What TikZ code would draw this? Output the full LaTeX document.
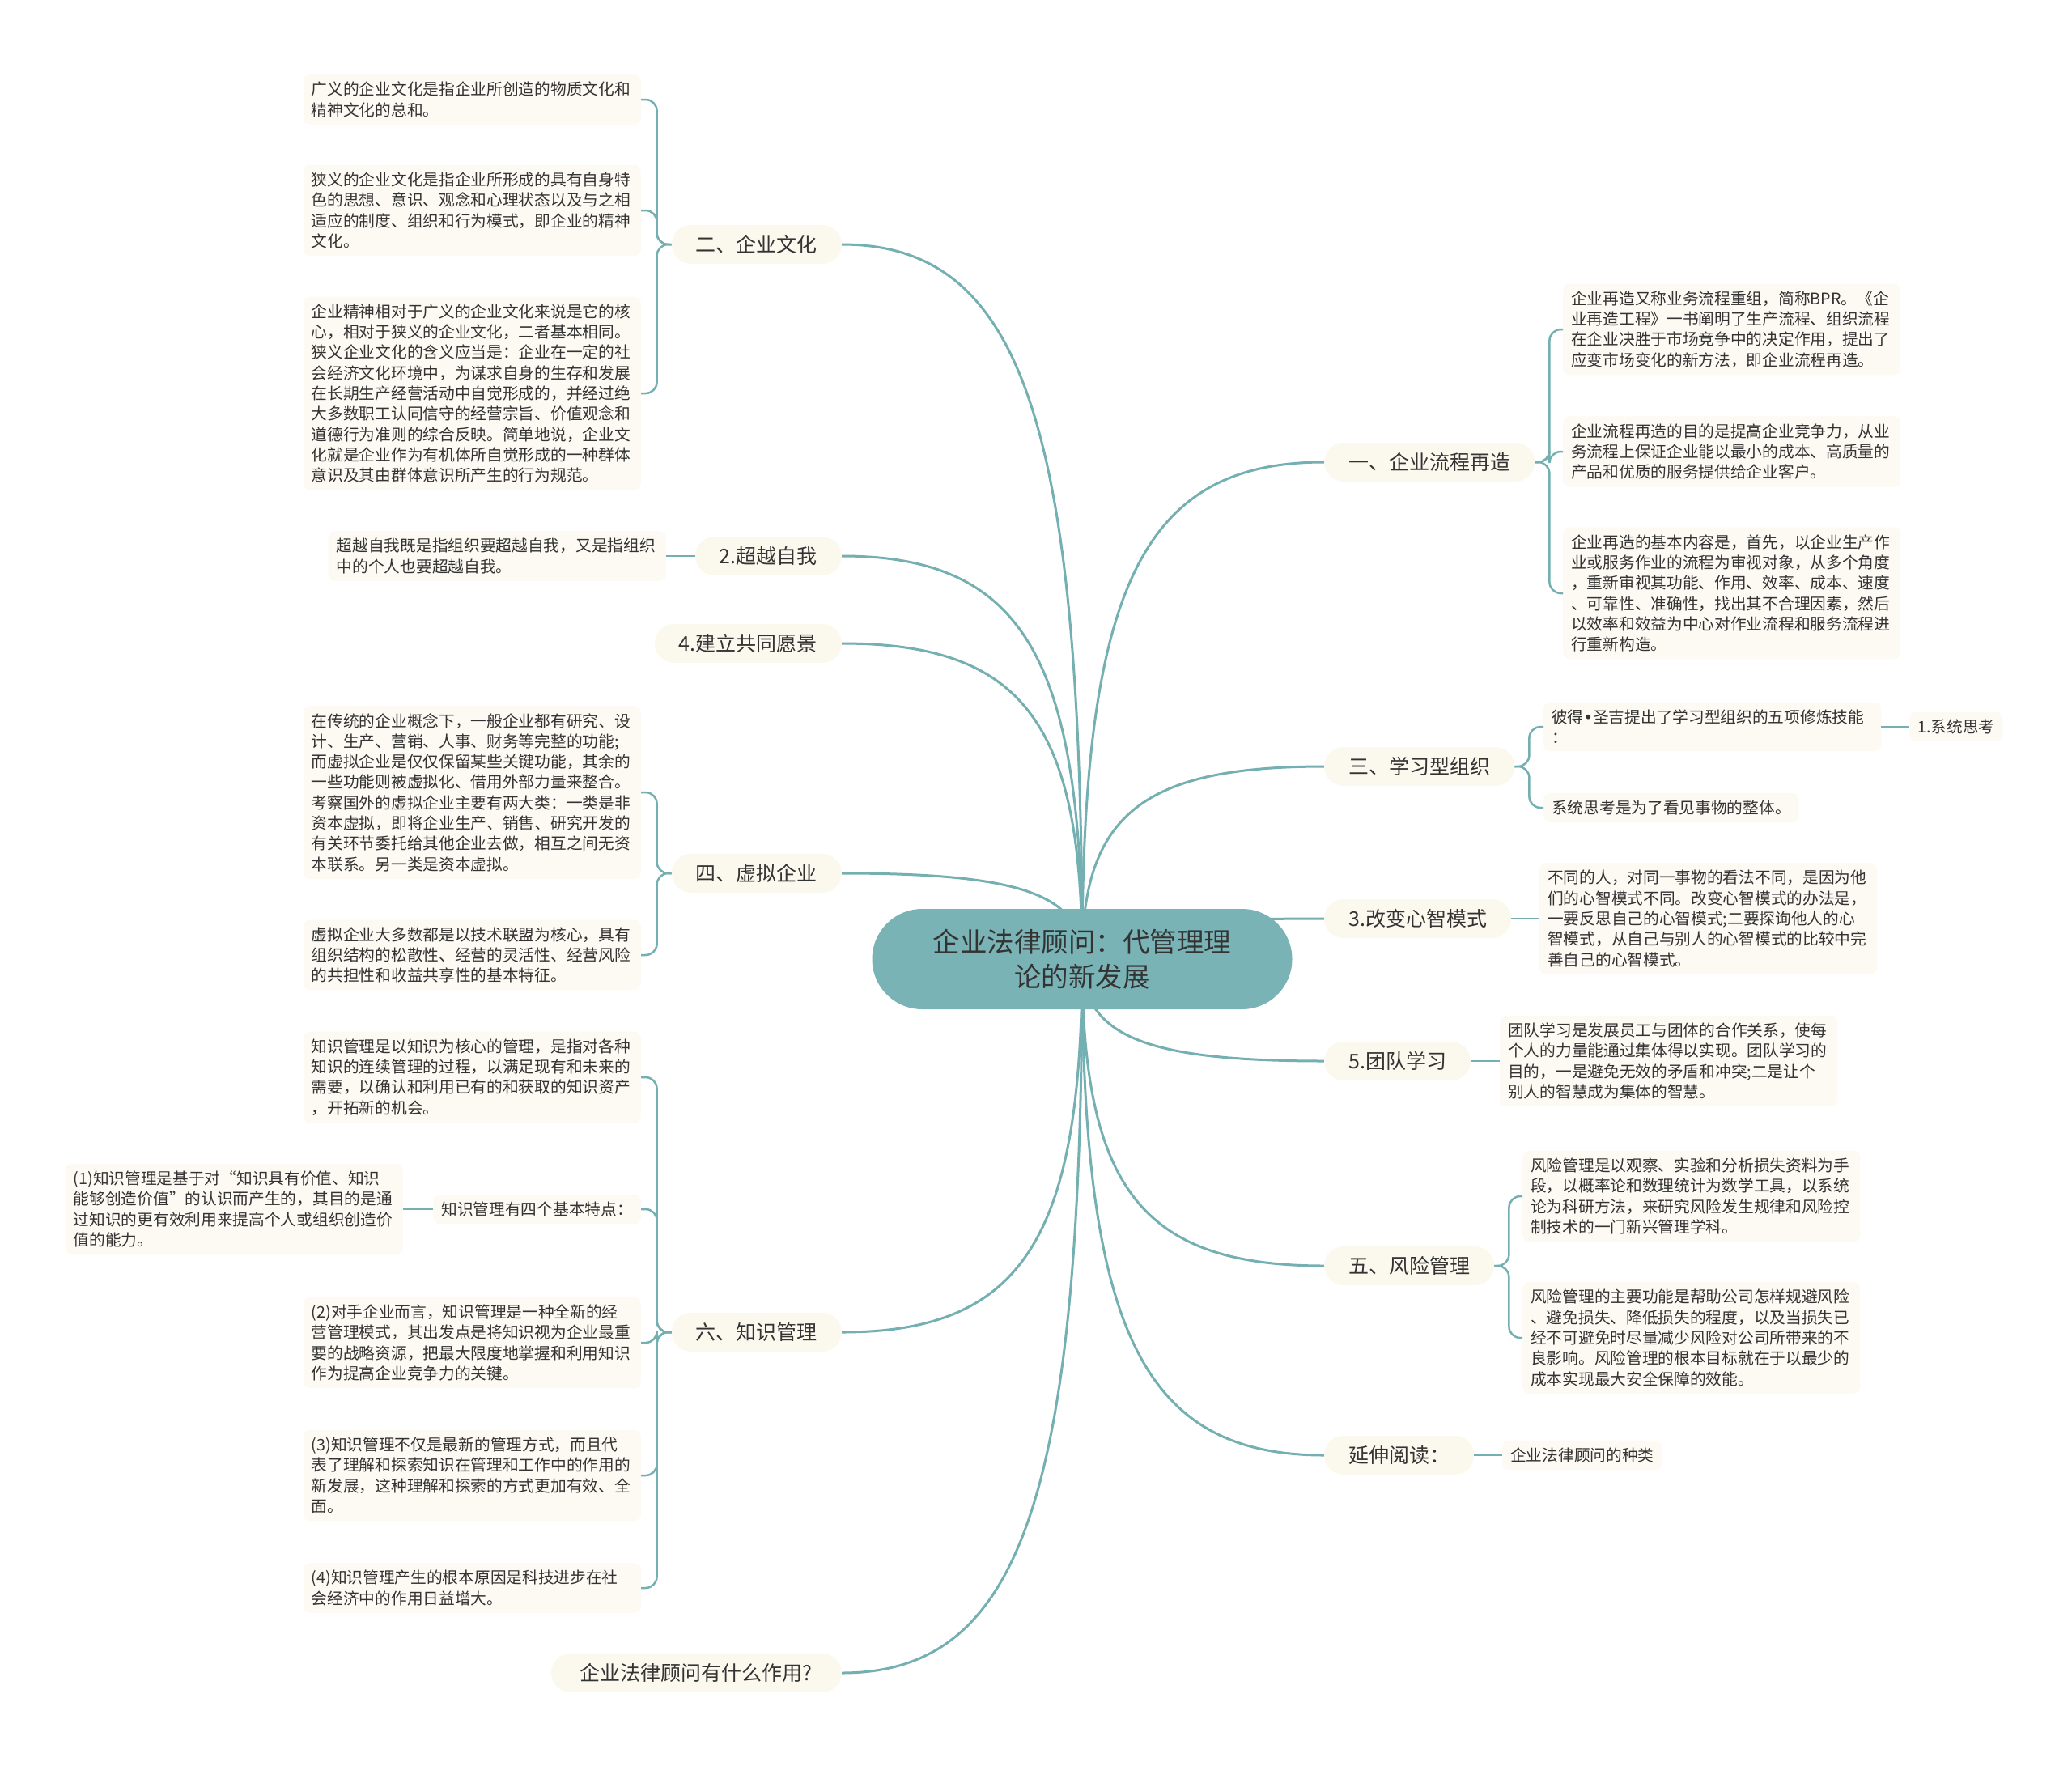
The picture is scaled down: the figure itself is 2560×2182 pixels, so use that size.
\documentclass[tikz,border=0pt]{standalone}
\usepackage{fontspec}
\setmainfont{Noto Sans CJK SC}
\newfontfamily\dotfont{DejaVu Sans}
\usetikzlibrary{calc}
\pgfdeclarelayer{bg}
\pgfsetlayers{bg,main}
\definecolor{rootfill}{HTML}{7AB3B5}
\definecolor{linkcol}{HTML}{74AFB2}
\definecolor{pillfill}{HTML}{FBF8EE}
\definecolor{boxfill}{HTML}{FCFAF3}
\definecolor{inkcol}{HTML}{333333}
\begin{document}
\begin{tikzpicture}[x=1pt, y=-1pt,
  root/.style={fill=rootfill, rounded corners=62, minimum width=519, minimum height=124, align=center, text=inkcol, font=\fontsize{33.5}{43}\selectfont},
  topic/.style={fill=pillfill, rounded corners=24, minimum height=48, inner xsep=30, text=inkcol, font=\fontsize{25}{30}\selectfont},
  note/.style={fill=boxfill, rounded corners=8, inner xsep=10, inner ysep=9, align=left, text=inkcol, font=\fontsize{19.7}{25.3}\selectfont},
  wide/.style={note, text width=397},
  branch/.style={draw=linkcol, line width=3, to path={.. controls ($(\tikztostart)!0.75!(\tikztostart|-\tikztotarget)$) and ($(\tikztotarget)!0.75!(\tikztostart|-\tikztotarget)$) .. (\tikztotarget)}},
  twig/.style={draw=linkcol, line width=2.5, rounded corners=14}]
\useasboundingbox (0,0) rectangle (2560,2182);
\node[root] (root) at (1337,1185) {企业法律顾问：代管理理\\论的新发展};

\node[topic, anchor=east] (culture) at (1040,302) {二、企业文化};
\node[topic, anchor=east] (beyond) at (1040,687) {2.超越自我};
\node[topic, anchor=east] (vision) at (1040,795) {4.建立共同愿景};
\node[topic, anchor=east] (virtual) at (1040,1079) {四、虚拟企业};
\node[topic, anchor=east] (knowledge) at (1040,1646) {六、知识管理};
\node[topic, anchor=east, inner xsep=36] (role) at (1040,2067) {企业法律顾问有什么作用?};
\node[topic, anchor=west] (reengineer) at (1636,571) {一、企业流程再造};
\node[topic, anchor=west] (learning) at (1636,947) {三、学习型组织};
\node[topic, anchor=west] (mindset) at (1636,1135) {3.改变心智模式};
\node[topic, anchor=west] (teamwork) at (1636,1311) {5.团队学习};
\node[topic, anchor=west] (risk) at (1636,1564) {五、风险管理};
\node[topic, anchor=west] (further) at (1636,1798) {延伸阅读：};

\node[wide, anchor=east] (cult1) at (792,123) {广义的企业文化是指企业所创造的物质文化和\\精神文化的总和。};
\node[wide, anchor=east] (cult2) at (792,260) {狭义的企业文化是指企业所形成的具有自身特\\色的思想、意识、观念和心理状态以及与之相\\适应的制度、组织和行为模式，即企业的精神\\文化。};
\node[wide, anchor=east] (cult3) at (792,486) {企业精神相对于广义的企业文化来说是它的核\\心，相对于狭义的企业文化，二者基本相同。\\狭义企业文化的含义应当是：企业在一定的社\\会经济文化环境中，为谋求自身的生存和发展\\在长期生产经营活动中自觉形成的，并经过绝\\大多数职工认同信守的经营宗旨、价值观念和\\道德行为准则的综合反映。简单地说，企业文\\化就是企业作为有机体所自觉形成的一种群体\\意识及其由群体意识所产生的行为规范。};
\node[wide, anchor=east] (beyond1) at (823,687) {超越自我既是指组织要超越自我，又是指组织\\中的个人也要超越自我。};
\node[wide, anchor=east] (virt1) at (792,979) {在传统的企业概念下，一般企业都有研究、设\\计、生产、营销、人事、财务等完整的功能;\\而虚拟企业是仅仅保留某些关键功能，其余的\\一些功能则被虚拟化、借用外部力量来整合。\\考察国外的虚拟企业主要有两大类：一类是非\\资本虚拟，即将企业生产、销售、研究开发的\\有关环节委托给其他企业去做，相互之间无资\\本联系。另一类是资本虚拟。};
\node[wide, anchor=east] (virt2) at (792,1180) {虚拟企业大多数都是以技术联盟为核心，具有\\组织结构的松散性、经营的灵活性、经营风险\\的共担性和收益共享性的基本特征。};
\node[wide, anchor=east] (know1) at (792,1331) {知识管理是以知识为核心的管理，是指对各种\\知识的连续管理的过程，以满足现有和未来的\\需要，以确认和利用已有的和获取的知识资产\\，开拓新的机会。};
\node[note, anchor=east] (know2) at (792,1494) {知识管理有四个基本特点：};
\node[wide, anchor=east] (know2a) at (498,1494) {(1)知识管理是基于对“知识具有价值、知识\\能够创造价值”的认识而产生的，其目的是通\\过知识的更有效利用来提高个人或组织创造价\\值的能力。};
\node[wide, anchor=east] (know3) at (792,1659) {(2)对手企业而言，知识管理是一种全新的经\\营管理模式，其出发点是将知识视为企业最重\\要的战略资源，把最大限度地掌握和利用知识\\作为提高企业竞争力的关键。};
\node[wide, anchor=east] (know4) at (792,1823) {(3)知识管理不仅是最新的管理方式，而且代\\表了理解和探索知识在管理和工作中的作用的\\新发展，这种理解和探索的方式更加有效、全\\面。};
\node[wide, anchor=east] (know5) at (792,1962) {(4)知识管理产生的根本原因是科技进步在社\\会经济中的作用日益增大。};

\node[wide, anchor=west] (reeng1) at (1931,407) {企业再造又称业务流程重组，简称BPR。《企\\业再造工程》一书阐明了生产流程、组织流程\\在企业决胜于市场竞争中的决定作用，提出了\\应变市场变化的新方法，即企业流程再造。};
\node[wide, anchor=west] (reeng2) at (1931,558) {企业流程再造的目的是提高企业竞争力，从业\\务流程上保证企业能以最小的成本、高质量的\\产品和优质的服务提供给企业客户。};
\node[wide, anchor=west] (reeng3) at (1931,733) {企业再造的基本内容是，首先，以企业生产作\\业或服务作业的流程为审视对象，从多个角度\\，重新审视其功能、作用、效率、成本、速度\\、可靠性、准确性，找出其不合理因素，然后\\以效率和效益为中心对作业流程和服务流程进\\行重新构造。};
\node[wide, anchor=west] (learn1) at (1907,898) {彼得{\dotfont •}圣吉提出了学习型组织的五项修炼技能\\：};
\node[note, anchor=west] (learn1a) at (2359,898) {1.系统思考};
\node[note, anchor=west] (learn2) at (1907,998) {系统思考是为了看见事物的整体。};
\node[wide, anchor=west] (mind1) at (1902,1135) {不同的人，对同一事物的看法不同，是因为他\\们的心智模式不同。改变心智模式的办法是，\\一要反思自己的心智模式;二要探询他人的心\\智模式，从自己与别人的心智模式的比较中完\\善自己的心智模式。};
\node[wide, anchor=west] (team1) at (1853,1311) {团队学习是发展员工与团体的合作关系，使每\\个人的力量能通过集体得以实现。团队学习的\\目的，一是避免无效的矛盾和冲突;二是让个\\别人的智慧成为集体的智慧。};
\node[wide, anchor=west] (risk1) at (1881,1478) {风险管理是以观察、实验和分析损失资料为手\\段，以概率论和数理统计为数学工具，以系统\\论为科研方法，来研究风险发生规律和风险控\\制技术的一门新兴管理学科。};
\node[wide, anchor=west] (risk2) at (1881,1653) {风险管理的主要功能是帮助公司怎样规避风险\\、避免损失、降低损失的程度，以及当损失已\\经不可避免时尽量减少风险对公司所带来的不\\良影响。风险管理的根本目标就在于以最少的\\成本实现最大安全保障的效能。};
\node[note, anchor=west] (further1) at (1856,1798) {企业法律顾问的种类};

\begin{pgfonlayer}{bg}
\fill[white] (0,0) rectangle (2560,2182);
\draw[branch] (root.center) to (culture.east);
\draw[branch] (root.center) to (beyond.east);
\draw[branch] (root.center) to (vision.east);
\draw[branch] (root.center) to (virtual.east);
\draw[branch] (root.center) to (knowledge.east);
\draw[branch] (root.center) to (role.east);
\draw[branch] (root.center) to (reengineer.west);
\draw[branch] (root.center) to (learning.west);
\draw[branch] (root.center) to (mindset.west);
\draw[branch] (root.center) to (teamwork.west);
\draw[branch] (root.center) to (risk.west);
\draw[branch] (root.center) to (further.west);
\end{pgfonlayer}

\draw[twig] (culture.west) -- ++(-18,0) |- (cult1.east);
\draw[twig] (culture.west) -- ++(-18,0) |- (cult2.east);
\draw[twig] (culture.west) -- ++(-18,0) |- (cult3.east);
\draw[twig] (beyond.west) -- (beyond1.east);
\draw[twig] (virtual.west) -- ++(-18,0) |- (virt1.east);
\draw[twig] (virtual.west) -- ++(-18,0) |- (virt2.east);
\draw[twig] (knowledge.west) -- ++(-18,0) |- (know1.east);
\draw[twig] (knowledge.west) -- ++(-18,0) |- (know2.east);
\draw[twig] (knowledge.west) -- ++(-18,0) |- (know3.east);
\draw[twig] (knowledge.west) -- ++(-18,0) |- (know4.east);
\draw[twig] (knowledge.west) -- ++(-18,0) |- (know5.east);
\draw[twig] (know2.west) -- (know2a.east);
\draw[twig] (reengineer.east) -- ++(18,0) |- (reeng1.west);
\draw[twig] (reengineer.east) -- ++(18,0) |- (reeng2.west);
\draw[twig] (reengineer.east) -- ++(18,0) |- (reeng3.west);
\draw[twig] (learning.east) -- ++(18,0) |- (learn1.west);
\draw[twig] (learning.east) -- ++(18,0) |- (learn2.west);
\draw[twig] (learn1.east) -- (learn1a.west);
\draw[twig] (mindset.east) -- (mind1.west);
\draw[twig] (teamwork.east) -- (team1.west);
\draw[twig] (risk.east) -- ++(18,0) |- (risk1.west);
\draw[twig] (risk.east) -- ++(18,0) |- (risk2.west);
\draw[twig] (further.east) -- (further1.west);
\end{tikzpicture}
\end{document}
